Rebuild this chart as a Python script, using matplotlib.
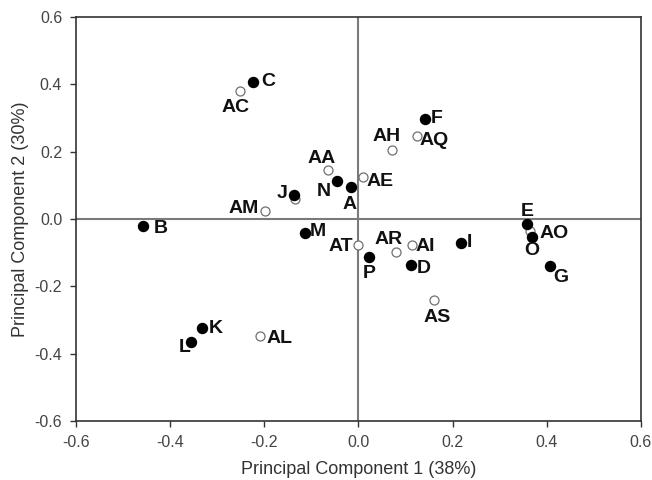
import numpy as np
import matplotlib.pyplot as plt

plt.rcParams['font.family'] = ['Liberation Sans', 'DejaVu Sans']

# PCA scores, group 1 (filled markers)
names_1 = ['A', 'B', 'C', 'D', 'E', 'F', 'G', 'I', 'J', 'K', 'L', 'M', 'N', 'O', 'P']
pc1_1 = [-0.016, -0.457, -0.223, 0.112, 0.359, 0.141, 0.407, 0.217, -0.137,
         -0.332, -0.356, -0.114, -0.046, 0.368, 0.022]
pc2_1 = [0.094, -0.021, 0.408, -0.137, -0.016, 0.297, -0.140, -0.070, 0.071,
         -0.325, -0.364, -0.041, 0.114, -0.053, -0.112]

# PCA scores, group 2 (open markers)
names_2 = ['AA', 'AC', 'AE', 'AH', 'AI', 'AL', 'AM', 'AO', 'AQ', 'AR', 'AS', 'AT', '']
pc1_2 = [-0.064, -0.252, 0.009, 0.071, 0.113, -0.209, -0.199, 0.364, 0.124,
         0.080, 0.160, 0.000, -0.135]
pc2_2 = [0.144, 0.381, 0.124, 0.205, -0.077, -0.348, 0.023, -0.036, 0.245,
         -0.099, -0.241, -0.077, 0.059]

# label placement: (dx, dy) in pixels, horizontal alignment
place = {
    'A': (-1, -17, 'center'), 'B': (10, -2, 'left'), 'C': (8, 0, 'left'),
    'D': (6, -3, 'left'), 'E': (0, 13, 'center'), 'F': (6, 0, 'left'),
    'G': (11, -11, 'center'), 'I': (6, 0, 'left'), 'J': (-6, 2, 'right'),
    'K': (7, 0, 'left'), 'L': (-6, -6, 'center'), 'M': (5, 1, 'left'),
    'N': (-13, -11, 'center'), 'O': (0, -14, 'center'), 'P': (0, -17, 'center'),
    'AA': (-7, 12, 'center'), 'AC': (-4, -17, 'center'), 'AE': (4, -4, 'left'),
    'AH': (-5, 13, 'center'), 'AI': (4, -2, 'left'), 'AL': (6, -2, 'left'),
    'AM': (-6, 3, 'right'), 'AO': (10, -2, 'left'), 'AQ': (3, -4, 'left'),
    'AR': (-8, 13, 'center'), 'AS': (3, -17, 'center'), 'AT': (-5, -2, 'right'),
}

fig = plt.figure(figsize=(6.52, 4.8), dpi=100)
ax = fig.add_axes([0.1166, 0.123, 0.8664, 0.8416])

ax.axhline(0, color='#7a7a7a', lw=1.5, zorder=1)
ax.axvline(0, color='#7a7a7a', lw=1.5, zorder=1)

ax.scatter(pc1_2, pc2_2, s=42, facecolors='white', edgecolors='#707070',
           linewidths=0.9, zorder=2)
ax.scatter(pc1_1, pc2_1, s=52, color='black', zorder=3)

for names, xs, ys in [(names_1, pc1_1, pc2_1), (names_2, pc1_2, pc2_2)]:
    for n, x, y in zip(names, xs, ys):
        if not n:
            continue
        dx, dy, ha = place[n]
        ax.annotate(n, xy=(x, y), xytext=(dx, dy), textcoords='offset pixels',
                    ha=ha, va='center', fontsize=14, fontweight='bold',
                    color='#111111', zorder=4)

ax.set_xlim(-0.6, 0.6)
ax.set_ylim(-0.6, 0.6)
ticks = np.round(np.arange(-0.6, 0.61, 0.2), 1)
ax.set_xticks(ticks)
ax.set_yticks(ticks)
ax.set_xticklabels(['%.1f' % t for t in ticks])
ax.set_yticklabels(['%.1f' % t for t in ticks])
ax.tick_params(direction='out', length=4, width=1, colors='#333333',
               labelcolor='#444444', labelsize=11.5, pad=6)

for s in ax.spines.values():
    s.set_color('#333333')
    s.set_linewidth(1.2)

ax.set_xlabel('Principal Component 1 (38%)', fontsize=13, color='#333333', labelpad=8)
ax.set_ylabel('Principal Component 2 (30%)', fontsize=13, color='#333333', labelpad=4)

fig.savefig('out.png', dpi=100)
